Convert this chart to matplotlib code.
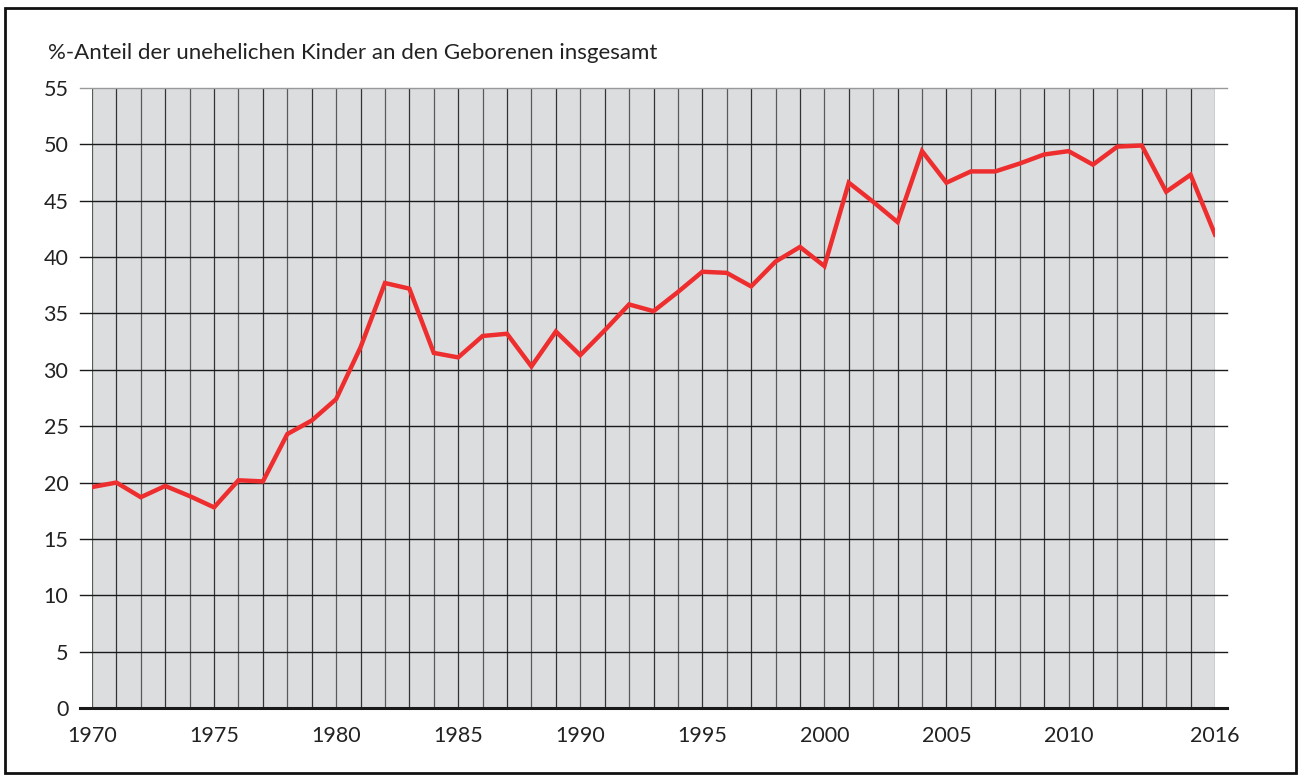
import matplotlib.pyplot as plt
from matplotlib.patches import Rectangle

# Data
years = list(range(1970, 2017))
share = [19.6, 20.0, 18.7, 19.7, 18.8, 17.8, 20.2, 20.1, 24.3, 25.5,
         27.4, 32.0, 37.7, 37.2, 31.5, 31.1, 33.0, 33.2, 30.3, 33.4,
         31.3, 33.5, 35.8, 35.2, 36.9, 38.7, 38.6, 37.4, 39.6, 40.9,
         39.2, 46.6, 44.9, 43.1, 49.4, 46.6, 47.6, 47.6, 48.3, 49.1,
         49.4, 48.2, 49.8, 49.9, 45.8, 47.3, 42.0]
x_ticks = [1970, 1975, 1980, 1985, 1990, 1995, 2000, 2005, 2010, 2016]
y_ticks = list(range(0, 56, 5))
title = "%-Anteil der unehelichen Kinder an den Geborenen insgesamt"


def main():
    plt.rcParams['font.family'] = ['Lato', 'DejaVu Sans']

    fig = plt.figure(figsize=(13.04, 7.76), dpi=100)
    ax = fig.add_axes([92 / 1304, 68 / 776, 1123 / 1304, 620 / 776])
    ax.set_facecolor("#dcdddf")

    ax.set_xlim(1970, 2016)
    ax.set_ylim(0, 55)

    # vertical grid, one line per year
    for yr in years:
        col = "#333333" if yr % 2 else "#5a5a5a"
        ax.axvline(yr, color=col, lw=0.9, zorder=1)

    # horizontal grid, running a bit past the plot on both sides
    for v in y_ticks:
        lw = 2.2 if v == 0 else 1.0
        col = "#999999" if v == 55 else "#1a1a1a"
        ax.plot([1969.5, 2016.5], [v, v], color=col, lw=lw,
                clip_on=False, zorder=2)

    ax.plot(years, share, color="#ee2e2e", lw=3.2, zorder=3,
            solid_joinstyle="miter")

    for s in ax.spines.values():
        s.set_visible(False)
    ax.tick_params(length=0, labelsize=15.5, colors="#222222")
    ax.tick_params(axis="y", pad=17)
    ax.tick_params(axis="x", pad=13)
    ax.set_xticks(x_ticks)
    ax.set_yticks(y_ticks)

    fig.text(48 / 1304, 1 - 53 / 776, title, fontsize=16, color="#222222",
             va="center", ha="left")

    fig.patches.append(Rectangle((5 / 1304, 3 / 776), 1291 / 1304, 765 / 776,
                                 transform=fig.transFigure, fill=False,
                                 edgecolor="#111111", lw=2))

    fig.savefig("out.png", dpi=100)


if __name__ == "__main__":
    main()
